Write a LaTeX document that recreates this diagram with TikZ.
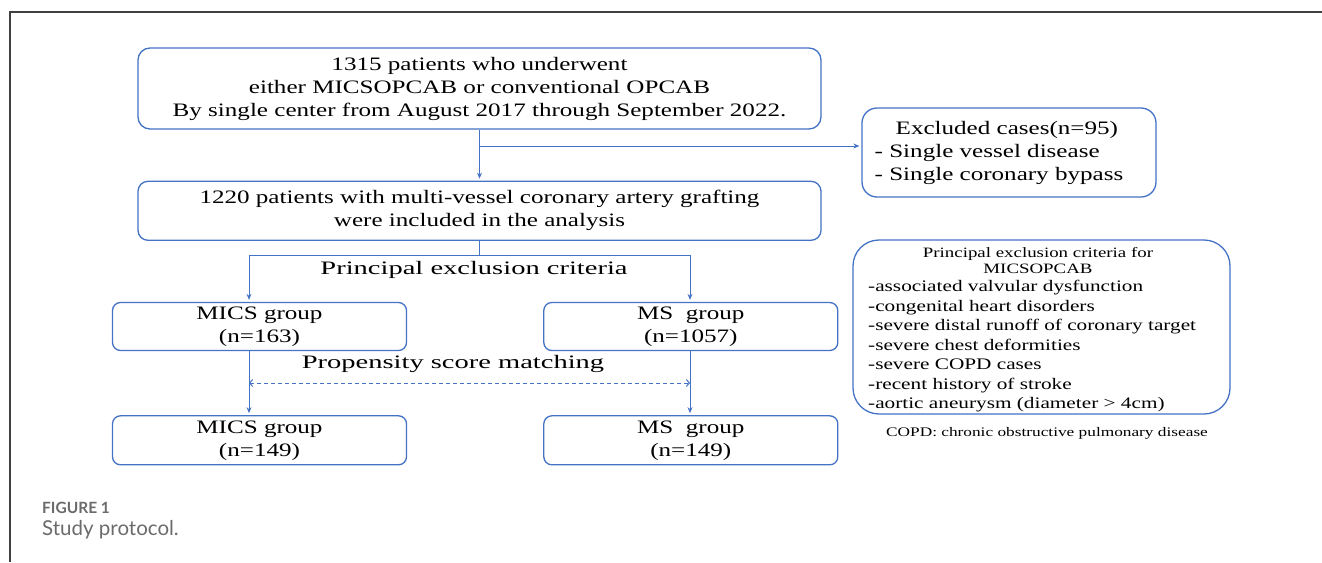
\documentclass[tikz,border=0pt]{standalone}
\usepackage{fontspec}
\setmainfont{Liberation Serif}
\newfontfamily\boxfont[FakeStretch=1.32]{Liberation Serif}
\newfontfamily\lblfont[FakeStretch=1.5]{Liberation Serif}
\newfontfamily\capfont{Lato}
\usetikzlibrary{arrows.meta,positioning}
\definecolor{flowblue}{HTML}{4472C4}
\definecolor{framegray}{HTML}{404040}
\definecolor{capgray}{HTML}{6B6B6B}

\begin{document}
\begin{tikzpicture}[x=1pt,y=-1pt,
  box/.style={draw=flowblue,line width=1.3pt,rounded corners=10pt,align=center,inner sep=0pt,
              font=\boxfont\fontsize{19}{23}\selectfont},
  arr/.style={draw=flowblue,line width=1pt,-{Stealth[length=6pt,width=5pt]},shorten >=2pt},
  ln/.style={draw=flowblue,line width=1pt},
  dasharr/.style={draw=flowblue,line width=1pt,dash pattern=on 4pt off 3pt,
                  {Straight Barb[length=3pt,width=7pt]}-{Straight Barb[length=3pt,width=7pt]}},
  lbl/.style={font=\lblfont\fontsize{19}{22}\selectfont,inner sep=0pt}]
\useasboundingbox (0,0) rectangle (1322,562);
\draw[framegray,line width=1.3pt] (10,562) -- (10,12) -- (1322,12);

% main flow
\node[box,minimum width=683pt,minimum height=81pt,rounded corners=12pt] (a) at (479.5,88.5)
  {1315 patients who underwent\\either MICSOPCAB or conventional OPCAB\\By single center from August 2017 through September 2022.};
\node[box,minimum width=683pt,minimum height=59pt,below=51pt of a] (b)
  {1220 patients with multi-vessel coronary artery grafting\\were included in the analysis};
\node[box,minimum width=294pt,minimum height=89pt,rounded corners=15pt,align=left] (x) at (1009,152.5)
  {\hspace*{21pt}Excluded cases(n=95)\\- Single vessel disease\\- Single coronary bypass\hspace*{20pt}};

% groups
\node[box,minimum width=294pt,minimum height=48pt,rounded corners=8pt] (c) at (259.5,326.5) {MICS group\\(n=163)};
\node[box,minimum width=294pt,minimum height=48pt,rounded corners=8pt,right=136pt of c] (d) {MS\ \ group\\(n=1057)};
\node[box,minimum width=294pt,minimum height=49pt,rounded corners=8pt,below=64pt of c] (e) {MICS group\\(n=149)};
\node[box,minimum width=294pt,minimum height=49pt,rounded corners=8pt,below=64pt of d] (f) {MS\ \ group\\(n=149)};

\node[lbl] (p) at (474,270) {Principal exclusion criteria};
\node[lbl] (q) at (453,364) {Propensity score matching};

% criteria box
\node[box,minimum width=377pt,minimum height=174pt,rounded corners=26pt] (g) at (1041.5,327) {};
\node[inner sep=0pt,align=center,font=\boxfont\fontsize{14.3}{16}\selectfont] (g1) at (1038,261)
  {Principal exclusion criteria for\\MICSOPCAB};
\node[inner sep=0pt,align=left,anchor=north west,font=\boxfont\fontsize{16.1}{19.5}\selectfont] (g2) at (868,280)
  {-associated valvular dysfunction\\-congenital heart disorders\\-severe distal runoff of coronary target\\
   -severe chest deformities\\-severe COPD cases\\-recent history of stroke\\-aortic aneurysm (diameter > 4cm)};
\node[inner sep=0pt,font=\boxfont\fontsize{13.1}{15}\selectfont] (h) at (1047,433)
  {COPD: chronic obstructive pulmonary disease};

% connectors
\coordinate (br) at (479.5,146);
\coordinate (l) at (249,255);
\coordinate (r) at (690,255);
\coordinate (pl) at (249,383);
\coordinate (pr) at (690,383);
\draw[arr] (a) -- (b);
\draw[arr] (br) -- (br -| x.west);
\draw[ln] (b.south) -- (b.south |- l);
\draw[ln] (l) -- (r);
\draw[arr] (l) -- (l |- c.north);
\draw[arr] (r) -- (r |- d.north);
\draw[arr] (l |- c.south) -- (l |- e.north);
\draw[arr] (r |- d.south) -- (r |- f.north);
\draw[dasharr] (pl) -- (pr);

% caption
\node[anchor=west,inner sep=0pt,text=capgray,font=\capfont\bfseries\fontsize{15.5}{18}\selectfont] (k) at (42,508) {FIGURE 1};
\node[anchor=west,inner sep=0pt,text=capgray,font=\capfont\fontsize{20.5}{24}\selectfont] (s) at (42,530) {Study protocol.};
\end{tikzpicture}
\end{document}
